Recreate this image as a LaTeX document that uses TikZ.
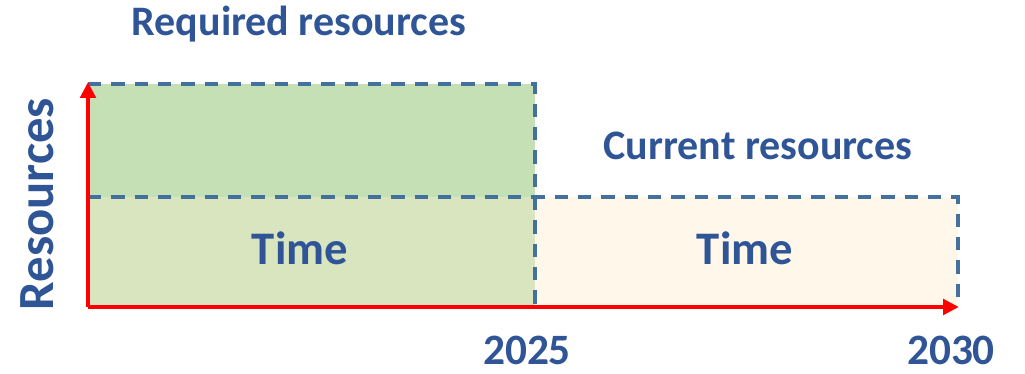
\documentclass[tikz,border=0pt]{standalone}
\usepackage{fontspec}
\setmainfont{Carlito}
\usetikzlibrary{arrows.meta}
\definecolor{labelblue}{HTML}{2F5597}
\definecolor{dashblue}{HTML}{41719C}
\definecolor{reqgreen}{HTML}{C5E0B4}
\definecolor{lowgreen}{HTML}{D9E5BE}
\definecolor{lowcream}{HTML}{FFF8EA}
\begin{document}
\begin{tikzpicture}[x=0.75pt,y=-0.75pt,
    label/.style={text=labelblue,font=\bfseries\fontsize{31.5}{34}\selectfont,anchor=base,inner sep=0pt},
    timelabel/.style={label,font=\bfseries\fontsize{35}{38}\selectfont},
    yearlabel/.style={label,font=\bfseries\fontsize{32.5}{35}\selectfont},
    border/.style={draw=dashblue,line width=2.5pt,dash pattern=on 10pt off 7.5pt},
    axis/.style={draw=red,line width=3.2pt,-{Triangle[length=12pt,width=11.5pt]}}]
  \useasboundingbox (0,0) rectangle (1025,374);
  \coordinate (O) at (88,307);
  \coordinate (Y) at (88,82);
  \coordinate (X) at (959,307);
  \coordinate (TL) at (88,84);
  \coordinate (TM) at (535,84);
  \coordinate (ML) at (88,197);
  \coordinate (MM) at (535,197);
  \coordinate (MR) at (958,197);
  \coordinate (BM) at (535,307);
  \coordinate (BR) at (958,307);
  \fill[reqgreen] (TL) rectangle (MM);
  \fill[lowgreen] (ML) rectangle (BM);
  \fill[lowcream] (MM) rectangle (BR);
  \draw[border] (TL) -- (TM) -- (BM);
  \draw[border] (ML) -- (MR) -- (BR);
  \draw[axis] (O) -- (Y);
  \draw[axis] (O) -- (X);
  \node[label] (req) at (299,36) {Required resources};
  \node[label] (cur) at (758,160) {Current resources};
  \node[timelabel] (time1) at (300,264) {Time};
  \node[timelabel] (time2) at (745,264) {Time};
  \node[label,rotate=90,font=\bfseries\fontsize{38}{41}\selectfont] (res) at (53,204) {Resources};
  \node[yearlabel] (y2025) at (527,364) {2025};
  \node[yearlabel] (y2030) at (951,364) {2030};
\end{tikzpicture}
\end{document}
